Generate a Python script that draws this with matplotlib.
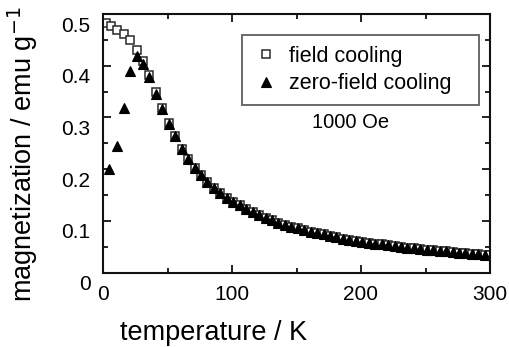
import matplotlib
matplotlib.use("Agg")
import matplotlib.pyplot as plt
import matplotlib.transforms as mtransforms
from matplotlib.ticker import MultipleLocator

plt.rcParams['font.family'] = ['Liberation Sans', 'DejaVu Sans']

# Field-cooled magnetization (emu/g) vs temperature (K)
fc_temp = [2, 6, 11, 16, 21, 26, 31, 36, 41, 46, 51, 56, 61, 66, 71, 76, 81, 86,
           91, 96, 101, 106, 111, 116, 121, 126, 131, 136, 141, 146, 151, 156,
           161, 166, 171, 176, 181, 186, 191, 196, 201, 206, 211, 216, 221, 226,
           231, 236, 241, 246, 251, 256, 261, 266, 271, 276, 281, 286, 291, 296, 300]
fc_mag = [0.482, 0.476, 0.469, 0.461, 0.449, 0.430, 0.410, 0.382, 0.350, 0.318,
          0.289, 0.264, 0.239, 0.219, 0.203, 0.188, 0.175, 0.164, 0.154, 0.145,
          0.137, 0.130, 0.123, 0.117, 0.111, 0.106, 0.102, 0.097, 0.093, 0.089,
          0.086, 0.082, 0.079, 0.076, 0.074, 0.071, 0.069, 0.066, 0.064, 0.062,
          0.060, 0.058, 0.056, 0.055, 0.053, 0.051, 0.050, 0.048, 0.047, 0.046,
          0.044, 0.043, 0.042, 0.041, 0.040, 0.039, 0.038, 0.037, 0.036, 0.035, 0.034]

# Zero-field-cooled magnetization (emu/g) vs temperature (K)
zfc_temp = [5, 11, 16, 21, 26, 31, 36, 41, 46, 51, 56, 61, 66, 71, 76, 81, 86,
            91, 96, 101, 106, 111, 116, 121, 126, 131, 136, 141, 146, 151, 156,
            161, 166, 171, 176, 181, 186, 191, 196, 201, 206, 211, 216, 221, 226,
            231, 236, 241, 246, 251, 256, 261, 266, 271, 276, 281, 286, 291, 296]
zfc_mag = [0.200, 0.245, 0.319, 0.390, 0.419, 0.403, 0.378, 0.346, 0.317,
           0.288, 0.264, 0.239, 0.219, 0.203, 0.188, 0.175, 0.164, 0.154, 0.145,
           0.137, 0.130, 0.123, 0.117, 0.111, 0.106, 0.102, 0.097, 0.093, 0.089,
           0.086, 0.082, 0.079, 0.076, 0.074, 0.071, 0.069, 0.066, 0.064, 0.062,
           0.060, 0.058, 0.056, 0.055, 0.053, 0.051, 0.050, 0.048, 0.047, 0.046,
           0.044, 0.043, 0.042, 0.041, 0.040, 0.039, 0.038, 0.037, 0.036, 0.035]

x_ticks = [0, 100, 200, 300]
y_ticks = [0, 0.1, 0.2, 0.3, 0.4, 0.5]
y_tick_labels = ['0', '0.1', '0.2', '0.3', '0.4', '0.5']

W, H = 509, 347
fig = plt.figure(figsize=(W / 100, H / 100), dpi=100)
ax = fig.add_axes([103 / W, 1 - 272.7 / H, (490 - 103) / W, (272.7 - 14) / H])

ax.plot(fc_temp, fc_mag, linestyle='none', marker='s', markersize=5.6,
        markerfacecolor='white', markeredgecolor='#2a2a2a', markeredgewidth=1.1,
        label='field cooling')
ax.plot(zfc_temp, zfc_mag, linestyle='none', marker='^', markersize=6.6,
        markerfacecolor='black', markeredgecolor='black', markeredgewidth=0.8,
        label='zero-field cooling')

ax.set_xlim(0, 300)
ax.set_ylim(0, 0.5)
ax.set_xticks(x_ticks)
ax.set_yticks(y_ticks)
ax.set_yticklabels(y_tick_labels)
ax.xaxis.set_minor_locator(MultipleLocator(50))
ax.yaxis.set_minor_locator(MultipleLocator(0.05))

for s in ax.spines.values():
    s.set_linewidth(1.5)
    s.set_color('#111111')

ax.tick_params(which='both', direction='in', top=True, right=True,
               width=1.3, color='#111111')
ax.tick_params(which='major', length=5.5)
ax.tick_params(which='minor', length=3.5)
ax.tick_params(axis='x', which='major', labelsize=15, pad=9)
ax.tick_params(axis='y', which='major', labelsize=15, pad=9)

# y tick labels sit a little below their ticks
shift = mtransforms.ScaledTranslation(0, -10 / 100, fig.dpi_scale_trans)
for lbl in ax.get_yticklabels():
    lbl.set_transform(lbl.get_transform() + shift)

fig.text(214 / W, 1 - 333 / H, 'temperature / K', fontsize=19.5,
         ha='center', va='center')
fig.text(23 / W, 1 - 154 / H, 'magnetization / emu g$^{-1}$', fontsize=19.5,
         rotation=90, ha='center', va='center')

leg = ax.legend(loc='upper left', bbox_to_anchor=(0.359, 0.640, 0.612, 0.279),
                mode='expand', fontsize=15.5, frameon=True, fancybox=False,
                handletextpad=0.5, labelspacing=0.3, borderpad=0.5,
                handlelength=1.2, borderaxespad=0)
leg.get_frame().set_edgecolor('#444444')
leg.get_frame().set_linewidth(1.4)

# applied field annotation, placed in axes fraction
ax.text((351 - 103) / 387, (272.7 - 122) / 258.7, '1000 Oe', fontsize=14.5,
        ha='center', va='center', transform=ax.transAxes)

fig.savefig('out.png', dpi=100)
